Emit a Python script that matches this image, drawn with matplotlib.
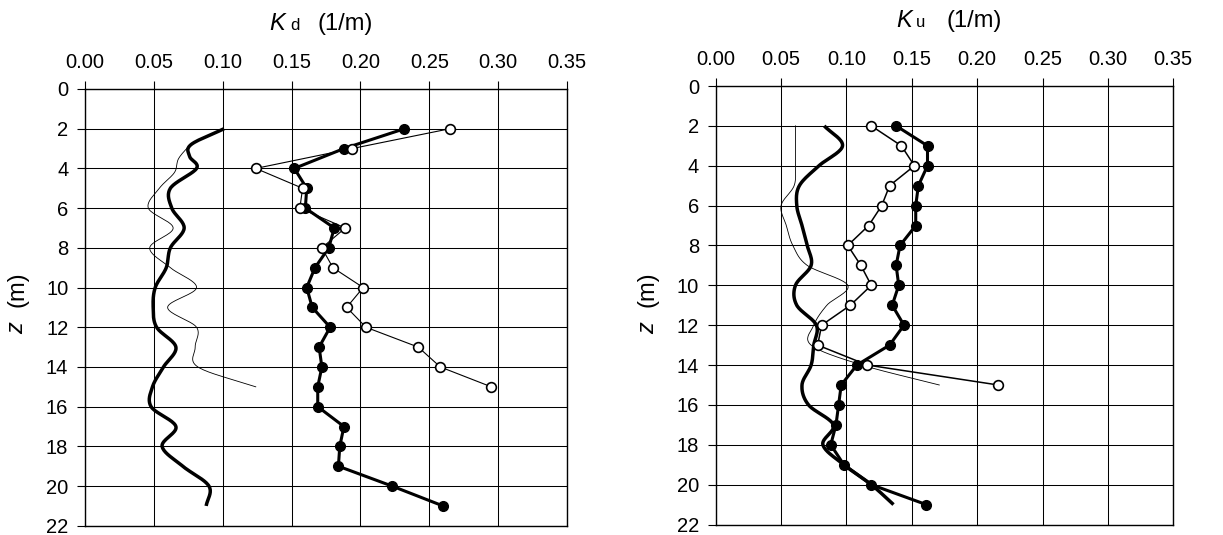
import numpy as np
import matplotlib
matplotlib.use("Agg")
import matplotlib.pyplot as plt

plt.rcParams['font.family'] = ['Liberation Sans', 'DejaVu Sans']

# ---------------- data ----------------
depth = [2, 3, 4, 5, 6, 7, 8, 9, 10, 11, 12, 13, 14, 15, 16, 17, 18, 19, 20, 21]

# Left panel (Kd)
kd_filled = [0.232, 0.188, 0.152, 0.161, 0.160, 0.181, 0.177, 0.167, 0.161, 0.165,
             0.178, 0.170, 0.172, 0.169, 0.169, 0.188, 0.185, 0.184, 0.223, 0.260]
kd_open_depth = [2, 3, 4, 5, 6, 7, 8, 9, 10, 11, 12, 13, 14, 15]
kd_open = [0.265, 0.194, 0.124, 0.158, 0.156, 0.189, 0.172, 0.180, 0.202, 0.190,
           0.204, 0.242, 0.258, 0.295]
kd_thick_depth = [2, 2.8, 3.4, 4, 5, 6, 7, 8, 9, 10, 11, 12, 13, 14, 15, 16, 17, 18, 19, 20, 21]
kd_thick = [0.101, 0.077, 0.076, 0.081, 0.062, 0.063, 0.072, 0.062, 0.059, 0.051, 0.0495,
            0.052, 0.066, 0.057, 0.049, 0.048, 0.066, 0.056, 0.071, 0.090, 0.088]
kd_thin_depth = [2.75, 3.5, 4.2, 5, 6, 7, 8, 9, 10, 11, 12, 13, 14, 15]
kd_thin = [0.077, 0.068, 0.065, 0.054, 0.046, 0.064, 0.047, 0.062, 0.081, 0.060,
           0.081, 0.080, 0.082, 0.124]

# Right panel (Ku)
ku_filled = [0.138, 0.162, 0.162, 0.155, 0.153, 0.153, 0.141, 0.138, 0.140, 0.135,
             0.144, 0.133, 0.108, 0.096, 0.094, 0.092, 0.088, 0.098, 0.119, 0.161]
ku_open_depth = [2, 3, 4, 5, 6, 7, 8, 9, 10, 11, 12, 13, 14, 15]
ku_open = [0.119, 0.142, 0.152, 0.133, 0.127, 0.117, 0.101, 0.111, 0.119, 0.103,
           0.081, 0.078, 0.116, 0.216]
ku_thick_depth = [2, 3, 4, 5, 6, 7, 8, 9, 10, 11, 12, 13, 14, 15, 16, 17, 18, 19, 20, 21]
ku_thick = [0.083, 0.097, 0.079, 0.064, 0.062, 0.066, 0.070, 0.073, 0.061, 0.062,
            0.077, 0.075, 0.073, 0.066, 0.071, 0.090, 0.082, 0.098, 0.119, 0.136]
ku_thin_depth = [2, 3, 4, 5, 6, 7, 8, 9, 10, 11, 12, 13, 14, 15]
ku_thin = [0.061, 0.061, 0.061, 0.060, 0.050, 0.054, 0.059, 0.070, 0.101, 0.085,
           0.075, 0.073, 0.112, 0.171]

xticks = [0.00, 0.05, 0.10, 0.15, 0.20, 0.25, 0.30, 0.35]
yticks = [0, 2, 4, 6, 8, 10, 12, 14, 16, 18, 20, 22]


def smooth(xs, ys, n=20):
    """Catmull-Rom style smoothing (like Excel's smoothed line)."""
    p = np.column_stack([xs, ys]).astype(float)
    p = np.vstack([p[0] + (p[0] - p[1]), p, p[-1] + (p[-1] - p[-2])])
    out = []
    for i in range(1, len(p) - 2):
        p0, p1, p2, p3 = p[i - 1], p[i], p[i + 1], p[i + 2]
        t = np.linspace(0, 1, n, endpoint=False)[:, None]
        seg = 0.5 * ((2 * p1) + (-p0 + p2) * t + (2 * p0 - 5 * p1 + 4 * p2 - p3) * t ** 2
                     + (-p0 + 3 * p1 - 3 * p2 + p3) * t ** 3)
        out.append(seg)
    out.append(p[-2][None, :])
    out = np.vstack(out)
    return out[:, 0], out[:, 1]


W, H = 1223, 535
fig = plt.figure(figsize=(W / 100, H / 100), dpi=100)
ax1 = fig.add_axes([85 / W, 1 - 525.8 / H, (567 - 85) / W, (525.8 - 89) / H])
ax2 = fig.add_axes([715.7 / W, 1 - 524.5 / H, (1173.3 - 715.7) / W, (524.5 - 86) / H])


def style(ax):
    ax.set_xlim(0, 0.35)
    ax.set_ylim(22, 0)
    ax.set_xticks(xticks)
    ax.set_xticklabels([f"{v:.2f}" for v in xticks])
    ax.set_yticks(yticks)
    ax.set_yticklabels([str(v) for v in yticks])
    ax.xaxis.tick_top()
    ax.tick_params(axis='both', direction='out', length=6, width=0.8, color='black',
                   labelsize=14.5)
    ax.tick_params(axis='x', pad=6)
    ax.tick_params(axis='y', pad=6)
    ax.grid(True, color='black', linewidth=0.75)
    ax.set_axisbelow(True)
    for s in ax.spines.values():
        s.set_linewidth(1.0)
        s.set_color('black')


style(ax1)
style(ax2)

# left panel
x, y = smooth(kd_thin, kd_thin_depth)
ax1.plot(x, y, color='black', lw=0.6, zorder=3)
x, y = smooth(kd_thick, kd_thick_depth)
ax1.plot(x, y, color='black', lw=2.5, zorder=3, solid_capstyle='butt')
ax1.plot(kd_filled, depth, color='black', lw=2.2, marker='o', ms=7, mfc='black',
         mec='black', zorder=4)
ax1.plot(kd_open, kd_open_depth, color='black', lw=0.8, marker='o', ms=7, mfc='white',
         mec='black', mew=1.2, zorder=5)

# right panel
x, y = smooth(ku_thin, ku_thin_depth)
ax2.plot(x, y, color='black', lw=0.6, zorder=3)
x, y = smooth(ku_thick, ku_thick_depth)
ax2.plot(x, y, color='black', lw=2.5, zorder=3, solid_capstyle='butt')
ax2.plot(ku_filled, depth, color='black', lw=2.2, marker='o', ms=7, mfc='black',
         mec='black', zorder=4)
ax2.plot(ku_open, ku_open_depth, color='black', lw=1.1, marker='o', ms=7, mfc='white',
         mec='black', mew=1.2, zorder=5)

# axis titles
yb1 = 1 - 30 / H
fig.text(269 / W, yb1, "K", fontsize=17, style='italic', ha='left', va='baseline')
fig.text(290 / W, yb1, "d", fontsize=12, ha='left', va='baseline')
fig.text(318 / W, yb1, "(1/m)", fontsize=17, ha='left', va='baseline')

yb2 = 1 - 27 / H
fig.text(896 / W, yb2, "K", fontsize=17, style='italic', ha='left', va='baseline')
fig.text(916 / W, yb2, "u", fontsize=12, ha='left', va='baseline')
fig.text(946 / W, yb2, "(1/m)", fontsize=17, ha='left', va='baseline')

for xc, yz, ym in [(17, 328, 289), (648, 328, 289)]:
    fig.text(xc / W, 1 - yz / H, "z", fontsize=17, style='italic', rotation=90,
             ha='center', va='center')
    fig.text(xc / W, 1 - ym / H, "(m)", fontsize=17, rotation=90,
             ha='center', va='center')

fig.savefig("out.png", dpi=100)
